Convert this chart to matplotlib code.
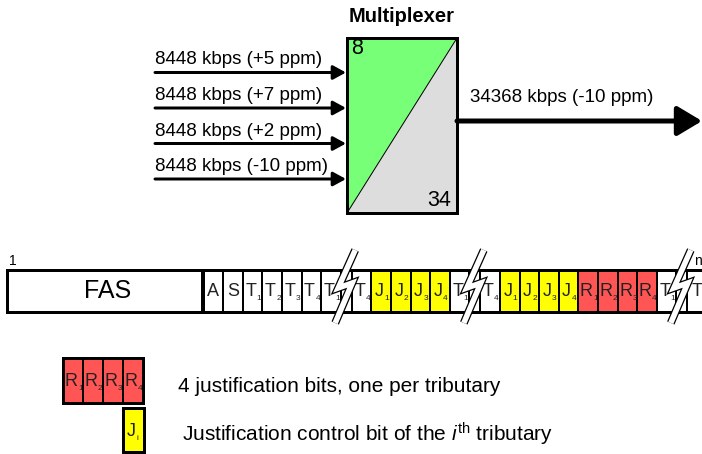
import matplotlib.pyplot as plt
from matplotlib.patches import Rectangle, Polygon

plt.rcParams['font.family'] = ['Liberation Sans', 'DejaVu Sans']
plt.rcParams['mathtext.fontset'] = 'custom'
plt.rcParams['mathtext.rm'] = 'Liberation Sans'
plt.rcParams['mathtext.it'] = 'Liberation Sans:italic'

NARROW = ['Liberation Sans Narrow', 'Liberation Sans']

# input tributaries and output
input_rates = ['8448 kbps (+5 ppm)', '8448 kbps (+7 ppm)',
               '8448 kbps (+2 ppm)', '8448 kbps (-10 ppm)']
output_rate = '34368 kbps (-10 ppm)'

# frame cells after the FAS field ('|' marks a break in the frame)
cell_letters = ['A', 'S', 'T', 'T', 'T', 'T', 'T', '|', 'T',
                'J', 'J', 'J', 'J', 'T', '|', 'T',
                'J', 'J', 'J', 'J', 'R', 'R', 'R', 'R', 'T', '|', 'T']
cell_subs = ['', '', '1', '2', '3', '4', '1', '', '4',
             '1', '2', '3', '4', '1', '', '4',
             '1', '2', '3', '4', '1', '2', '3', '4', '1', '', '']

legend_texts = ['4 justification bits, one per tributary',
                'Justification control bit of the $\\it{i}^{\\rm{th}}$ tributary']

colors = {'A': 'white', 'S': 'white', 'T': 'white',
          'J': '#ffff00', 'R': '#ff5555'}
# advance widths (em) of the cell letters, used to place subscripts
letter_em = {'A': 0.667, 'S': 0.667, 'T': 0.611, 'J': 0.5, 'R': 0.722}

PX = 0.72  # points per pixel at dpi 100

fig = plt.figure(figsize=(7.02, 4.54), dpi=100)
ax = fig.add_axes([0, 0, 1, 1])
ax.set_xlim(0, 702)
ax.set_ylim(454, 0)
ax.axis('off')


def cell(x, y, w, h, letter, sub, fs=13, sfs=6, lw=2):
    ax.add_patch(Rectangle((x, y), w, h, facecolor=colors[letter],
                           edgecolor='black', lw=lw * PX, zorder=2))
    lw_px = letter_em[letter] * fs / PX
    sub_px = 3.6 if sub else 0
    x0 = x + (w - lw_px - sub_px) / 2
    ax.text(x0 + lw_px / 2, y + h / 2 + 1, letter, fontsize=fs, family=NARROW,
            color='#222222', ha='center', va='center', zorder=3)
    if sub:
        ax.text(x0 + lw_px + 0.3, y + h / 2 + 8, sub, fontsize=sfs,
                family=NARROW, color='#222222', ha='left', va='center',
                zorder=3)


def frame_break(cx, y0=250, y1=323):
    xs = [cx + 10, cx - 7, cx + 7, cx - 10]
    ys = [y0, 288, 283, y1]
    ax.plot(xs, ys, color='black', lw=8 * PX, solid_joinstyle='miter',
            solid_capstyle='butt', zorder=5)
    ax.plot(xs, ys, color='white', lw=5.5 * PX, solid_joinstyle='miter',
            solid_capstyle='butt', zorder=6)


# ---- multiplexer ----
bx0, bx1, by0, by1 = 347, 457, 38, 213
ax.add_patch(Polygon([(bx0, by0), (bx1, by0), (bx0, by1)],
                     facecolor='#77ff77', edgecolor='none', zorder=1))
ax.add_patch(Polygon([(bx1, by0), (bx1, by1), (bx0, by1)],
                     facecolor='#dddddd', edgecolor='none', zorder=1))
ax.plot([bx0, bx1], [by1, by0], color='black', lw=1 * PX, zorder=2)
ax.add_patch(Rectangle((bx0, by0), bx1 - bx0, by1 - by0, fill=False,
                       edgecolor='black', lw=3 * PX, zorder=3))
ax.text((bx0 + bx1) / 2, 17, 'Multiplexer', fontsize=14.5, weight='bold',
        ha='center', va='center')
ax.text(351, 48, '8', fontsize=15.5, ha='left', va='center')
ax.text(451, 200, '34', fontsize=15.5, ha='right', va='center')

for i, lab in enumerate(input_rates):
    y = 72.5 + i * 35.5
    ax.annotate('', xy=(bx0 - 1, y), xytext=(155, y),
                arrowprops=dict(arrowstyle='-|>,head_length=0.55,head_width=0.3',
                                lw=3 * PX, color='black', mutation_scale=14,
                                shrinkA=0, shrinkB=0))
    ax.text(155, y - 12.5, lab, fontsize=13.5, ha='left', va='center')

ax.annotate('', xy=(702, 121), xytext=(bx1, 121),
            arrowprops=dict(arrowstyle='-|>,head_length=0.75,head_width=0.45',
                            lw=5 * PX, color='black', mutation_scale=20,
                            shrinkA=0, shrinkB=0))
ax.text(470, 98, output_rate, fontsize=13.5, ha='left', va='center')

# ---- frame ----
fy0, fy1 = 270, 312
ax.add_patch(Rectangle((7, fy0), 195, fy1 - fy0, facecolor='white',
                       edgecolor='black', lw=3 * PX, zorder=2))
ax.text(108, 291, 'FAS', fontsize=18, ha='center', va='center', zorder=3)
ax.plot([202, 702], [fy0, fy0], color='black', lw=3 * PX, zorder=4)
ax.plot([202, 702], [fy1, fy1], color='black', lw=3 * PX, zorder=4)
ax.text(13, 261, '1', fontsize=10, ha='center', va='center')
ax.text(698, 261, 'n', fontsize=10, ha='center', va='center')

w = 19.6
gap = 11
x = 203.5
for letter, sub in zip(cell_letters, cell_subs):
    if letter == '|':
        ax.add_patch(Rectangle((x, fy0), gap, fy1 - fy0, facecolor='white',
                               edgecolor='black', lw=2 * PX, zorder=2))
        frame_break(x + gap / 2 - 1)
        x += gap
        continue
    cell(x, fy0, w, fy1 - fy0, letter, sub)
    x += w

# ---- legend ----
for k in range(4):
    cell(63 + k * 20, 358, 20, 45, 'R', str(k + 1))
ax.add_patch(Rectangle((63, 358), 80, 45, fill=False, edgecolor='black',
                       lw=3 * PX, zorder=4))
cell(123, 408, 21, 44, 'J', 'i', lw=3)
ax.text(178, 387, legend_texts[0], fontsize=15, ha='left', va='center')
ax.text(182, 434, legend_texts[1], fontsize=15, ha='left', va='center')

fig.savefig('out.png', dpi=100)
